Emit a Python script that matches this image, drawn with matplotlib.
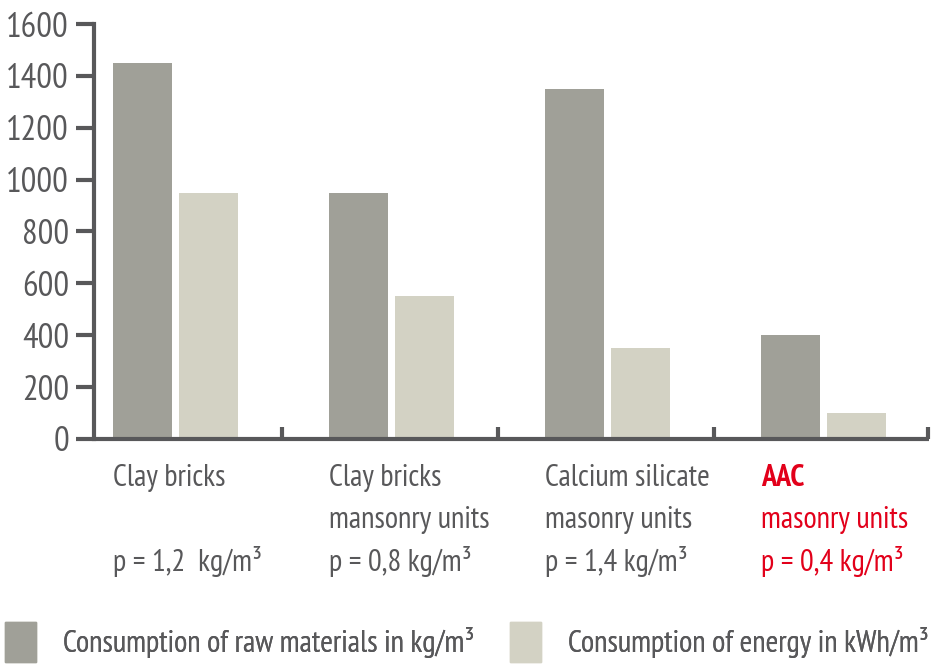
import numpy as np
import matplotlib
matplotlib.use("Agg")
import matplotlib.pyplot as plt
import matplotlib.patches as mpatches

plt.rcParams['font.family'] = ['PT Sans Narrow', 'Roboto Condensed', 'DejaVu Sans']

materials = ["Clay bricks", "Clay bricks", "Calcium silicate", "AAC"]
subtitles = ["", "mansonry units", "masonry units", "masonry units"]
densities = ["p = 1,2  kg/m³", "p = 0,8 kg/m³", "p = 1,4 kg/m³", "p = 0,4 kg/m³"]
raw_materials = [1450, 950, 1350, 400]
energy = [950, 550, 350, 100]
yticks = [0, 200, 400, 600, 800, 1000, 1200, 1400, 1600]
legend_labels = ["Consumption of raw materials in kg/m³", "Consumption of energy in kWh/m³"]

dark = "#a0a098"
light = "#d3d2c4"
axis_col = "#58585a"
text_col = "#58585a"
red = "#e2001a"

fig = plt.figure(figsize=(9.31, 6.67), dpi=100)
ax = fig.add_axes([0.101, 0.342, 0.897, 0.622])

x = np.arange(len(materials))
w = 0.273
ax.bar(x - 0.145, raw_materials, width=w, color=dark)
ax.bar(x + 0.158, energy, width=w, color=light)

ax.set_xlim(-0.37, 3.495)
ax.set_ylim(0, 1600)
ax.set_yticks(yticks)
ax.set_yticklabels([str(v) for v in yticks], fontsize=25, color=text_col)
ax.tick_params(axis='y', length=13, width=3, color=axis_col, pad=5)

ax.set_xticks(list(x[:-1] + 0.5) + [3.49])
ax.set_xticklabels([])
ax.tick_params(axis='x', direction='in', length=9, width=3, color=axis_col)

for s in ["top", "right"]:
    ax.spines[s].set_visible(False)
for s in ["left", "bottom"]:
    ax.spines[s].set_linewidth(3)
    ax.spines[s].set_color(axis_col)
ax.spines["bottom"].set_capstyle("butt")

trans = ax.get_xaxis_transform()
line_y = [-0.094, -0.195, -0.296]
for i in range(len(materials)):
    col = red if materials[i] == "AAC" else text_col
    weight = "bold" if materials[i] == "AAC" else "normal"
    lines = [materials[i], subtitles[i], densities[i]]
    for j, t in enumerate(lines):
        ax.text(i - 0.282, line_y[j], t, transform=trans, ha='left', va='center',
                fontsize=22, color=col, fontweight=weight if j == 0 else "normal",
                clip_on=False)

# two separate one-entry legends so each can sit where the reference has it
for lx, col, lab in [(5, dark, legend_labels[0]), (510, light, legend_labels[1])]:
    leg = fig.legend(handles=[mpatches.Patch(color=col, label=lab)], loc='lower left',
                     bbox_to_anchor=(lx / 931, 5 / 667), frameon=False, fontsize=22,
                     labelcolor=text_col, handlelength=1.0, handleheight=1.64,
                     handletextpad=0.9, borderpad=0, borderaxespad=0)
    fig.add_artist(leg)

fig.savefig("out.png", dpi=100)
